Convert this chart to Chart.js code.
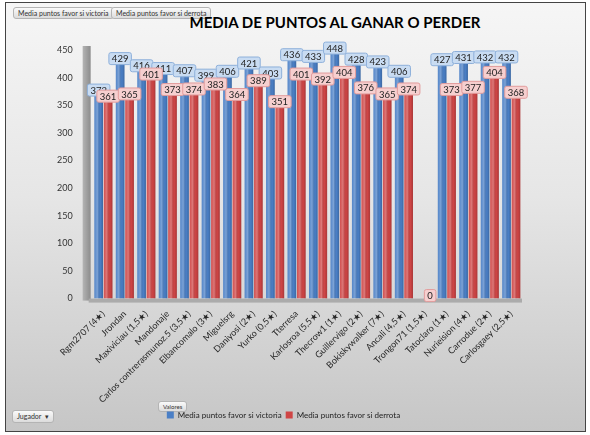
<!DOCTYPE html>
<html>
<head>
<meta charset="utf-8">
<script src="https://cdn.jsdelivr.net/npm/chart.js@4.4.1/dist/chart.umd.min.js"></script>
<style>
  body { margin: 0; background: #ffffff; }
  #wrap { position: relative; width: 590px; height: 435px; overflow: hidden; font-family: Lato, "Open Sans", sans-serif; }
  #frame {
    position: absolute; left: 5px; top: 2px; width: 579px; height: 428px;
    border: 1px solid #444;
    background: linear-gradient(#f6f6f6 0%, #e6e6e6 45%, #c6c6c6 100%);
  }
  canvas { position: absolute; left: 0; top: 0; }
  .btn {
    position: absolute; font-size: 7px; color: #333; white-space: nowrap;
    border: 1px solid #b4b4b4; border-radius: 3px; padding: 1px 4px;
    background: linear-gradient(#fafafa, #dcdcdc);
  }
  #title {
    position: absolute; left: 165px; width: 340px; top: 13px; text-align: center;
    font-weight: bold; font-size: 15px; color: #000;
  }
</style>
</head>
<body>
<div id="wrap">
  <div id="frame"></div>
  <div class="btn" style="left:13px; top:7px;">Media puntos favor si victoria</div>
  <div class="btn" style="left:111px; top:7px;">Media puntos favor si derrota</div>
  <div id="title">MEDIA DE PUNTOS AL GANAR O PERDER</div>
  <div class="btn" style="left:158px; top:401px; font-size:6px;">Valores</div>
  <div class="btn" style="left:12px; top:410px;">Jugador &nbsp;&#9662;</div>
  <canvas id="chart" width="590" height="435"></canvas>
</div>

<script>
// Players (x categories)
const jugadores = [
    'Rgm2707 (4★)', 'Jrondan', 'Maxiviciau (1,5★)', 'Mandonaje',
    'Carlos contrerasmunoz.5 (3,5★)', 'Elbancomalo (3★)', 'Miguelsrg',
    'Daniyosi (2★)', 'Yurko (0,5★)', 'Tterresa', 'Karlosroa (5,5★)',
    'Thecrow1 (1★)', 'Guillervigo (2★)', 'Bokiskywalker (7★)', 'Ancali (4,5★)',
    'Trongon71 (1,5★)', 'Tatoclaro (1★)', 'Nurieision (4★)', 'Carrodue (2★)',
    'Carlosgaey (2,5★)'
];

// Average points when winning / losing
const mediaVictoria = [372, 429, 416, 411, 407, 399, 406, 421, 403, 436, 433, 448, 428, 423, 406, null, 427, 431, 432, 432];
const mediaDerrota  = [361, 365, 401, 373, 374, 383, 364, 389, 351, 401, 392, 404, 376, 365, 374, 0, 373, 377, 404, 368];

const yTicks = [0, 50, 100, 150, 200, 250, 300, 350, 400, 450];

const colors = {
    blue: '#4a7fc6',
    red: '#cf4545'
};

/**
 * Grey side wall and floor, like the Excel 3D chart
 */
const wallPlugin = {
    id: 'wall',
    beforeDatasetsDraw(chart) {
        const { ctx, chartArea } = chart;
        ctx.save();
        const g = ctx.createLinearGradient(chartArea.left - 10, 0, chartArea.left - 2, 0);
        g.addColorStop(0, '#b4b4b4');
        g.addColorStop(1, '#8c8c8c');
        ctx.fillStyle = g;
        ctx.fillRect(chartArea.left - 10, chartArea.top - 4, 8, chartArea.bottom - chartArea.top + 6);
        ctx.fillStyle = '#ababab';
        ctx.fillRect(chartArea.left - 4, chartArea.bottom, chartArea.right - chartArea.left + 4, 4);
        ctx.restore();
    }
};

/**
 * Cylinder-ish highlight on bars
 */
const shinePlugin = {
    id: 'shine',
    afterDatasetsDraw(chart) {
        const ctx = chart.ctx;
        ctx.save();
        chart.data.datasets.forEach((ds, i) => {
            chart.getDatasetMeta(i).data.forEach((bar, j) => {
                if (!ds.data[j]) return;
                const w = bar.width;
                const g = ctx.createLinearGradient(bar.x - w / 2, 0, bar.x + w / 2, 0);
                g.addColorStop(0, 'rgba(255,255,255,0.05)');
                g.addColorStop(0.35, 'rgba(255,255,255,0.28)');
                g.addColorStop(0.7, 'rgba(0,0,0,0)');
                g.addColorStop(1, 'rgba(0,0,0,0.18)');
                ctx.fillStyle = g;
                ctx.fillRect(bar.x - w / 2, bar.y, w, bar.base - bar.y);
            });
        });
        ctx.restore();
    }
};

/**
 * Value boxes above bars
 */
const valueLabels = {
    id: 'valueLabels',
    afterDatasetsDraw(chart) {
        const ctx = chart.ctx;
        ctx.save();
        ctx.font = '9.5px Lato, "Open Sans", sans-serif';
        ctx.textAlign = 'center';
        ctx.textBaseline = 'middle';
        chart.data.datasets.forEach((ds, i) => {
            const fill = i === 0 ? '#c9dcf2' : '#f6cfcf';
            const edge = i === 0 ? '#8eb0da' : '#e29c9c';
            chart.getDatasetMeta(i).data.forEach((bar, j) => {
                const v = ds.data[j];
                if (v === null || v === undefined) return;
                const txt = String(v);
                const w = ctx.measureText(txt).width + 6;
                const h = 12;
                const x = bar.x - w / 2;
                const y = bar.y - h + 3;
                ctx.fillStyle = fill;
                ctx.strokeStyle = edge;
                ctx.lineWidth = 1;
                ctx.beginPath();
                ctx.roundRect(x, y, w, h, 2);
                ctx.fill();
                ctx.stroke();
                ctx.fillStyle = '#222';
                ctx.fillText(txt, bar.x, y + h / 2 + 0.5);
            });
        });
        ctx.restore();
    }
};

const chart = new Chart(document.getElementById('chart'), {
    type: 'bar',
    data: {
        labels: jugadores,
        datasets: [
            {
                label: 'Media puntos favor si victoria',
                data: mediaVictoria,
                backgroundColor: colors.blue,
                borderWidth: 0
            },
            {
                label: 'Media puntos favor si derrota',
                data: mediaDerrota,
                backgroundColor: colors.red,
                borderWidth: 0
            }
        ]
    },
    options: {
        responsive: false,
        animation: false,
        devicePixelRatio: 1,
        layout: { padding: { left: 45, right: 68, top: 50, bottom: 6 } },
        datasets: {
            bar: { categoryPercentage: 0.88, barPercentage: 0.92 }
        },
        scales: {
            x: {
                grid: { display: false },
                border: { display: false },
                ticks: {
                    minRotation: 45,
                    maxRotation: 45,
                    autoSkip: false,
                    color: '#262626',
                    font: { size: 9, family: 'Lato, "Open Sans", sans-serif' },
                    padding: 2
                }
            },
            y: {
                min: 0,
                max: 450,
                afterBuildTicks: (axis) => { axis.ticks = yTicks.map(v => ({ value: v })); },
                grid: { display: false },
                border: { display: false },
                ticks: {
                    color: '#333',
                    padding: 12,
                    font: { size: 9, family: 'Lato, "Open Sans", sans-serif' }
                }
            }
        },
        plugins: {
            title: { display: false },
            tooltip: { enabled: false },
            legend: {
                position: 'bottom',
                labels: {
                    boxWidth: 7,
                    boxHeight: 7,
                    padding: 4,
                    color: '#222',
                    font: { size: 8, family: 'Lato, "Open Sans", sans-serif' }
                }
            }
        }
    },
    plugins: [wallPlugin, shinePlugin, valueLabels]
});
</script>
</body>
</html>
